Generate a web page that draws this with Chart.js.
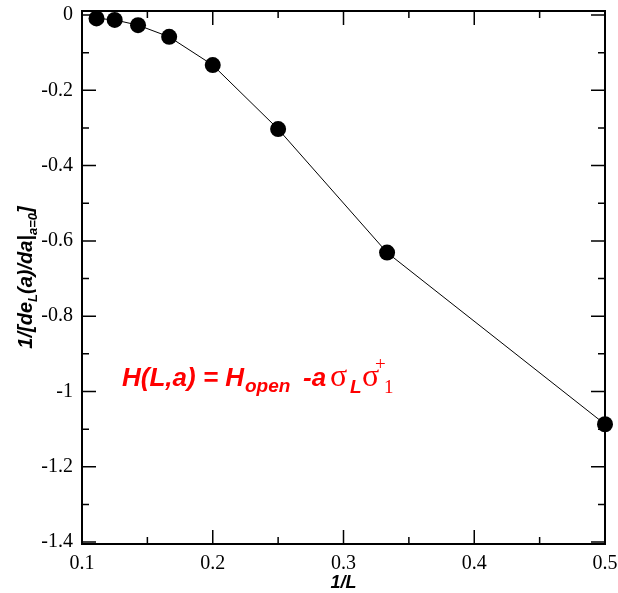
<!DOCTYPE html>
<html>
<head>
<meta charset="utf-8">
<script src="https://cdn.jsdelivr.net/npm/chart.js@4/dist/chart.umd.min.js"></script>
<style>
  html, body { margin: 0; padding: 0; background: #fff; }
  #wrap { width: 618px; height: 593px; }
</style>
</head>
<body>
<div id="wrap"><canvas id="myChart" width="618" height="593"></canvas></div>
<script>
// 1/L and the measured values
let invL = [1/9, 1/8, 1/7, 1/6, 1/5, 1/4, 1/3, 1/2];
let yValues = [-0.009, -0.013, -0.027, -0.058, -0.133, -0.303, -0.631, -1.087];

let xTicks = [0.1, 0.2, 0.3, 0.4, 0.5];
let xTickLabels = ["0.1", "0.2", "0.3", "0.4", "0.5"];
let xMinor = [0.15, 0.25, 0.35, 0.45];
let yTicks = [0, -0.2, -0.4, -0.6, -0.8, -1, -1.2, -1.4];
let yTickLabels = ["0", "-0.2", "-0.4", "-0.6", "-0.8", "-1", "-1.2", "-1.4"];
let yMinor = [-0.1, -0.3, -0.5, -0.7, -0.9, -1.1, -1.3];

let points = invL.map((x, i) => ({x: x, y: yValues[i]}));

const SANS = '"Liberation Sans", Arial, sans-serif';
const SERIF = '"Liberation Serif", "Times New Roman", serif';

// frame + inward ticks on all four sides, xmgrace style
const frame = {
    id: 'frame',
    beforeDatasetsDraw(chart) {
        const ctx = chart.ctx;
        const a = chart.chartArea;
        const xs = chart.scales.x, ys = chart.scales.y;
        ctx.save();
        ctx.strokeStyle = '#000';
        ctx.lineWidth = 1.5;
        ctx.beginPath();
        const tick = (list, len) => {
            list.forEach(v => {
                let px = xs.getPixelForValue(v);
                ctx.moveTo(px, a.bottom); ctx.lineTo(px, a.bottom - len);
                ctx.moveTo(px, a.top); ctx.lineTo(px, a.top + len);
            });
        };
        const ytick = (list, len) => {
            list.forEach(v => {
                let py = ys.getPixelForValue(v);
                ctx.moveTo(a.left, py); ctx.lineTo(a.left + len, py);
                ctx.moveTo(a.right, py); ctx.lineTo(a.right - len, py);
            });
        };
        tick(xTicks, 14); tick(xMinor, 7);
        ytick(yTicks, 14); ytick(yMinor, 7);
        ctx.stroke();
        ctx.lineWidth = 2;
        ctx.strokeRect(a.left, a.top, a.right - a.left, a.bottom - a.top);
        ctx.restore();
    },
    afterDraw(chart) {
        const ctx = chart.ctx;
        const a = chart.chartArea;
        ctx.save();
        ctx.fillStyle = '#000';
        ctx.textBaseline = 'alphabetic';

        // x title
        ctx.font = 'italic bold 18px ' + SANS;
        ctx.textAlign = 'center';
        ctx.fillText('1/L', (a.left + a.right) / 2, 588);

        // y title, rotated, with subscripts
        ctx.textAlign = 'left';
        let parts = [
            ['1/[de', 20, 0], ['L', 13, 5], ['(a)/da|', 20, 0], ['a=0', 13, 5], [']', 20, 0]
        ];
        let total = 0;
        parts.forEach(p => { ctx.font = 'italic bold ' + p[1] + 'px ' + SANS; total += ctx.measureText(p[0]).width; });
        ctx.translate(32, (a.top + a.bottom) / 2);
        ctx.rotate(-Math.PI / 2);
        let cx = -total / 2;
        parts.forEach(p => {
            ctx.font = 'italic bold ' + p[1] + 'px ' + SANS;
            ctx.fillText(p[0], cx, p[2]);
            cx += ctx.measureText(p[0]).width;
        });
        ctx.setTransform(1, 0, 0, 1, 0, 0);

        // red annotation
        ctx.fillStyle = '#ff0000';
        let note = [
            ['H(L,a) = H', 'italic bold 26px ' + SANS, 122, 386],
            ['open', 'italic bold 19px ' + SANS, 245, 392],
            ['-a', 'italic bold 26px ' + SANS, 303, 386],
            ['\u03c3', '32px ' + SERIF, 330, 386],
            ['L', 'italic bold 19px ' + SANS, 350, 393],
            ['\u03c3', '32px ' + SERIF, 362, 386],
            ['+', '19px ' + SERIF, 375, 370],
            ['1', '19px ' + SERIF, 384, 393]
        ];
        note.forEach(n => {
            ctx.font = n[1];
            ctx.fillText(n[0], n[2], n[3]);
        });
        ctx.restore();
    }
};

new Chart("myChart", {
    type: "scatter",
    data: {
        datasets: [{
            data: points,
            showLine: true,
            borderColor: "#000",
            borderWidth: 1,
            backgroundColor: "#000",
            pointRadius: 8,
            pointHoverRadius: 8,
            pointBorderWidth: 0,
            clip: false
        }]
    },
    options: {
        responsive: false,
        animation: false,
        events: [],
        layout: {autoPadding: false, padding: {top: 11, right: 13, left: 0, bottom: 0}},
        plugins: {
            legend: {display: false},
            tooltip: {enabled: false}
        },
        scales: {
            x: {
                type: "linear",
                min: 0.1,
                max: 0.5,
                afterFit(s) { s.height = 49; s.paddingLeft = 0; s.paddingRight = 0; },
                afterBuildTicks(s) { s.ticks = xTicks.map(v => ({value: v})); },
                grid: {display: false, drawTicks: false},
                border: {display: false},
                ticks: {
                    padding: 8,
                    color: "#000",
                    font: {family: "Liberation Serif", size: 20},
                    callback: (v) => xTickLabels[xTicks.findIndex(t => Math.abs(t - v) < 1e-9)]
                }
            },
            y: {
                type: "linear",
                min: -1.405,
                max: 0.0106,
                afterFit(s) { s.width = 82; s.paddingTop = 0; s.paddingBottom = 0; },
                afterBuildTicks(s) { s.ticks = yTicks.map(v => ({value: v})); },
                grid: {display: false, drawTicks: false},
                border: {display: false},
                ticks: {
                    padding: 9,
                    color: "#000",
                    font: {family: "Liberation Serif", size: 20},
                    callback: (v) => yTickLabels[yTicks.findIndex(t => Math.abs(t - v) < 1e-9)]
                }
            }
        }
    },
    plugins: [frame]
});
</script>
</body>
</html>
